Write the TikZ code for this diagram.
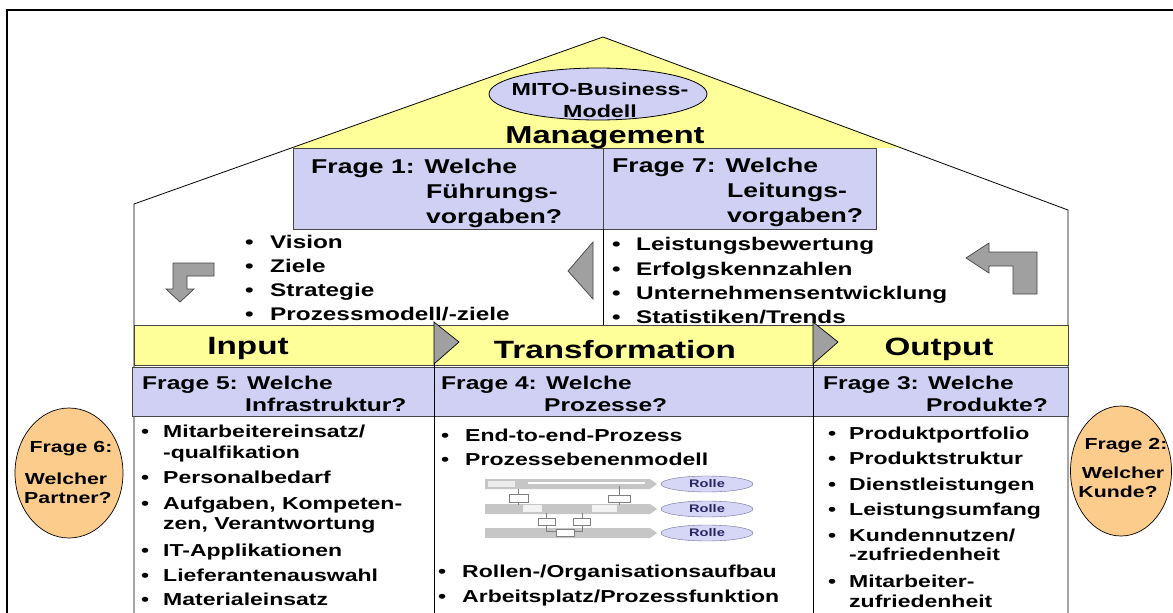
\documentclass[tikz,border=0pt]{standalone}
\usepackage{fontspec}
\setmainfont{Liberation Sans}[FakeStretch=1.33]
\usetikzlibrary{shapes.geometric}
\definecolor{lav}{RGB}{208,208,244}
\definecolor{yel}{RGB}{255,255,153}
\definecolor{ora}{RGB}{252,204,140}
\definecolor{arrg}{RGB}{160,160,160}
\definecolor{bord}{RGB}{70,70,70}
\definecolor{barg}{RGB}{198,198,198}
\definecolor{rolfill}{RGB}{214,214,246}
\definecolor{rolbd}{RGB}{110,110,160}
\definecolor{roltext}{RGB}{40,40,100}
\newcommand\myfs[1]{\fontsize{#1pt}{#1pt}\selectfont\bfseries}
\newcommand\li[6]{\node[txt,font=\myfs{#5}] (#1b) at (#2,#4) {\textbullet};\node[txt,font=\myfs{#5}] (#1) at (#3,#4) {#6};}
\begin{document}
\begin{tikzpicture}[x=1pt,y=-1pt,
  txt/.style={inner sep=0pt, anchor=base west},
  ctr/.style={inner sep=0pt, anchor=base},
  qbox/.style={draw=bord, fill=lav, line width=0.7pt},
  garrow/.style={draw=bord, fill=arrg, line width=0.7pt},
  oval/.style={ellipse, draw=black, fill=ora, inner sep=0pt, line width=0.7pt},
  rolle/.style={ellipse, draw=rolbd, fill=rolfill, minimum width=92pt, minimum height=16pt, inner sep=0pt, text=roltext, font=\myfs{11}},
  smallbox/.style={draw=gray, fill=white, line width=0.5pt}]
\useasboundingbox (0,0) rectangle (1173,613);
\fill[white] (0,0) rectangle (1173,613);
% frame
\draw[line width=2.5pt] (7,613) -- (7,10) -- (1173,10);
% roof
\fill[yel] (603,37) -- (291,148) -- (903,148) -- cycle;
\draw[line width=0.8pt] (134,613) -- (134,204) -- (603,37) -- (1068,210) -- (1068,613);
% management boxes
\draw[qbox] (293,148) rectangle (603,229);
\draw[qbox] (603,148) rectangle (876,229);
\draw[line width=0.8pt] (603,229) -- (603,325);
\node[ellipse, draw=black, fill=lav, minimum width=218pt, minimum height=52pt, inner sep=0pt, line width=0.8pt] (mito) at (598,94) {};
\node[ctr, font=\myfs{17.5}] (mito1) at (600,95) {MITO-Business-};
\node[ctr, font=\myfs{17.5}] (mito2) at (600,117) {Modell};
\node[ctr, font=\myfs{24.5}] (mgmt) at (605,143) {Management};
\node[txt, font=\myfs{20}] (f1a) at (311,173) {Frage 1: Welche};
\node[txt, font=\myfs{20}] (f1b) at (426,198) {Führungs-};
\node[txt, font=\myfs{20}] (f1c) at (426,223) {vorgaben?};
\node[txt, font=\myfs{20}] (f7a) at (612,172) {Frage 7: Welche};
\node[txt, font=\myfs{20}] (f7b) at (727,197) {Leitungs-};
\node[txt, font=\myfs{20}] (f7c) at (727,222) {vorgaben?};
% upper lists
\li{ua}{245}{270}{248}{18.3}{Vision}
\li{ub}{245}{270}{272}{18.3}{Ziele}
\li{uc}{245}{270}{296}{18.3}{Strategie}
\li{ud}{245}{270}{320}{18.3}{Prozessmodell/-ziele}
\li{va}{612}{636}{250}{18.3}{Leistungsbewertung}
\li{vb}{612}{636}{275}{18.3}{Erfolgskennzahlen}
\li{vc}{612}{636}{299}{18.3}{Unternehmensentwicklung}
\li{vd}{612}{636}{323}{18.3}{Statistiken/Trends}
% grey arrows
\draw[garrow] (214,263) -- (214,276) -- (187,276) -- (187,289) -- (194,289) -- (180,302) -- (166,289) -- (173,289) -- (173,263) -- cycle;
\draw[garrow] (966,258) -- (989,243) -- (989,252) -- (1037,252) -- (1037,294) -- (1013,294) -- (1013,266) -- (989,266) -- (989,273) -- cycle;
\draw[garrow] (568,271) -- (593,242) -- (593,299) -- cycle;
% band
\draw[draw=bord, fill=yel, line width=0.7pt] (134,325) rectangle (1068,365);
\draw[qbox] (132,367) rectangle (434,416);
\draw[qbox] (434,367) rectangle (813,416);
\draw[qbox] (813,367) rectangle (1068,416);
\draw[line width=0.8pt] (434,322) -- (434,613);
\draw[line width=0.8pt] (813,322) -- (813,613);
\draw[garrow, draw=black] (434,322) -- (459,342) -- (434,364) -- cycle;
\draw[garrow, draw=black] (813,322) -- (838,342) -- (813,364) -- cycle;
\node[ctr, font=\myfs{25}] (input) at (248,354) {Input};
\node[ctr, font=\myfs{25}] (trans) at (615,358) {Transformation};
\node[ctr, font=\myfs{25}] (output) at (939,355) {Output};
\node[txt, font=\myfs{18.5}] (f5a) at (142,389) {Frage 5: Welche};
\node[txt, font=\myfs{18.5}] (f5b) at (245,411) {Infrastruktur?};
\node[txt, font=\myfs{18.5}] (f4a) at (441,389) {Frage 4: Welche};
\node[txt, font=\myfs{18.5}] (f4b) at (544,411) {Prozesse?};
\node[txt, font=\myfs{18.5}] (f3a) at (823,389) {Frage 3: Welche};
\node[txt, font=\myfs{18.5}] (f3b) at (926,411) {Produkte?};
% input list
\li{ia}{141}{163}{437}{17.3}{Mitarbeitereinsatz/}
\node[txt, font=\myfs{17.3}] (ia2) at (163,458) {-qualfikation};
\li{ib}{141}{163}{483}{17.3}{Personalbedarf}
\li{ic}{141}{163}{509}{17.3}{Aufgaben, Kompeten-}
\node[txt, font=\myfs{17.3}] (ic2) at (163,529) {zen, Verantwortung};
\li{id}{141}{163}{556}{17.3}{IT-Applikationen}
\li{ie}{141}{163}{581}{17.3}{Lieferantenauswahl}
\li{if}{141}{163}{605}{17.3}{Materialeinsatz}
% transformation list
\li{ta}{441}{465}{441}{17.3}{End-to-end-Prozess}
\li{tb}{441}{465}{465}{17.3}{Prozessebenenmodell}
\li{tc}{438}{462}{577}{17.3}{Rollen-/Organisationsaufbau}
\li{td}{438}{462}{602}{17.3}{Arbeitsplatz/Prozessfunktion}
% output list
\li{oa}{828}{849}{439}{17.3}{Produktportfolio}
\li{ob}{828}{849}{464}{17.3}{Produktstruktur}
\li{oc}{828}{849}{490}{17.3}{Dienstleistungen}
\li{od}{828}{849}{515}{17.3}{Leistungsumfang}
\li{oe}{828}{849}{541}{17.3}{Kundennutzen/}
\node[txt, font=\myfs{17.3}] (oe2) at (849,560) {-zufriedenheit};
\li{of}{828}{849}{587}{17.3}{Mitarbeiter-}
\node[txt, font=\myfs{17.3}] (of2) at (849,607) {zufriedenheit};
% process level picture
\foreach \y in {484,509,533} {
  \fill[barg] (485,\y-5) -- (650,\y-5) -- (657,\y) -- (650,\y+5) -- (485,\y+5) -- cycle;
}
\draw[white, line width=1.5pt] (528,483) -- (645,483);
\fill[white!85!gray] (488,481) rectangle (515,487);
\draw[gray, line width=0.6pt] (518,489) -- (518,494) (518,502) -- (518,505) (619,486) -- (619,495) (619,502) -- (619,505)
  (546,513) -- (546,518) (546,525) -- (546,531) -- (556,531) (582,513) -- (582,518) (582,525) -- (582,531) -- (574,531);
\draw[smallbox] (509,494) rectangle (528,502);
\draw[smallbox] (608,495) rectangle (630,502);
\fill[white!90!gray] (523,505) rectangle (542,512);
\fill[white!90!gray] (592,505) rectangle (617,512);
\draw[smallbox] (538,518) rectangle (555,525);
\draw[smallbox] (573,518) rectangle (590,525);
\draw[smallbox] (556,529) rectangle (574,536);
\node[rolle] (r1) at (707,484) {Rolle};
\node[rolle] (r2) at (707,509) {Rolle};
\node[rolle] (r3) at (707,533) {Rolle};
% side ovals
\node[oval, minimum width=108pt, minimum height=130pt] (q6) at (69,473) {};
\node[ctr, font=\myfs{16}] (q6a) at (71,452) {Frage 6:};
\node[ctr, font=\myfs{16}] (q6b) at (66,484) {Welcher};
\node[ctr, font=\myfs{16}] (q6c) at (68,503) {Partner?};
\node[oval, minimum width=101pt, minimum height=130pt] (q2) at (1121,471) {};
\node[ctr, font=\myfs{16}] (q2a) at (1126,449) {Frage 2:};
\node[ctr, font=\myfs{16}] (q2b) at (1123,478) {Welcher};
\node[ctr, font=\myfs{16}] (q2c) at (1118,497) {Kunde?};
\end{tikzpicture}
\end{document}
